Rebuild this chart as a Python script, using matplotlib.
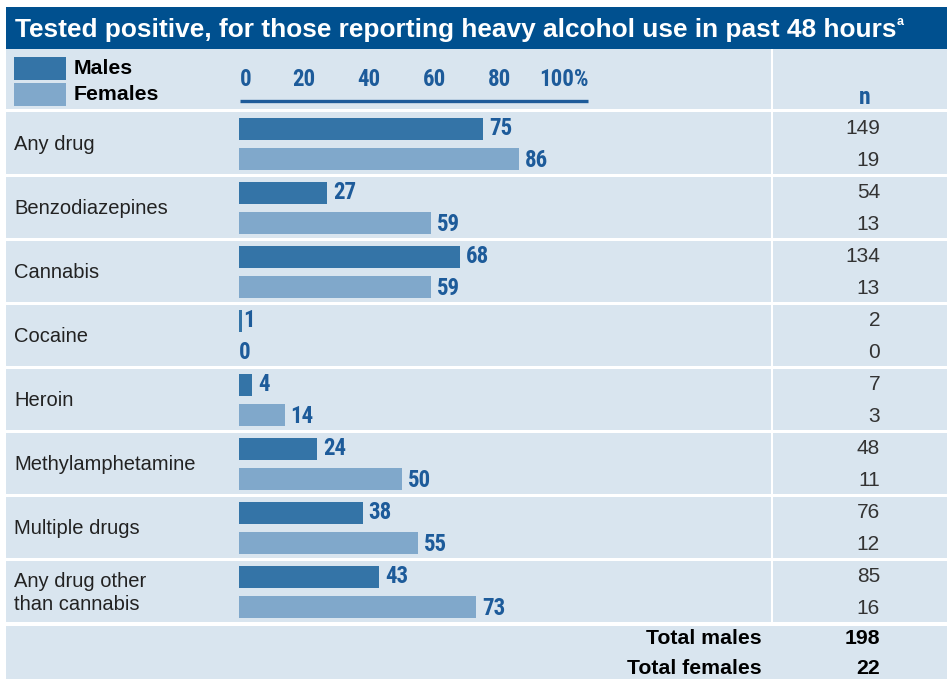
import matplotlib.pyplot as plt
from matplotlib.patches import Rectangle

# Tested positive by drug, split by sex (percent), with group sizes
categories = ["Any drug", "Benzodiazepines", "Cannabis", "Cocaine", "Heroin",
              "Methylamphetamine", "Multiple drugs", "Any drug other\nthan cannabis"]
males_pct = [75, 27, 68, 1, 4, 24, 38, 43]
females_pct = [86, 59, 59, 0, 14, 50, 55, 73]
males_n = [149, 54, 134, 2, 7, 48, 76, 85]
females_n = [19, 13, 13, 0, 3, 11, 12, 16]
ticks = [0, 20, 40, 60, 80, 100]
tick_labels = ["0", "20", "40", "60", "80", "100%"]
total_males = 198
total_females = 22

TITLE_BG = "#00508f"
PANEL = "#d9e5ef"
MALE = "#3474a7"
FEMALE = "#80a8cb"
VALUE = "#1d5b9a"
INK = "#222222"

NARROW = "Roboto Condensed"
PLAIN = "Liberation Sans"

W, H = 947, 679
fig = plt.figure(figsize=(W / 100, H / 100), dpi=100)
fig.patch.set_facecolor("white")

# background layer in pixel units (origin top-left)
bg = fig.add_axes([0, 0, 1, 1])
bg.set_xlim(0, W)
bg.set_ylim(H, 0)
bg.axis("off")

row_top, row_h = 112, 64
n_rows = len(categories)
rows_end = row_top + n_rows * row_h

bg.add_patch(Rectangle((6, 7), W - 6, 42, color=TITLE_BG, lw=0))
bg.add_patch(Rectangle((6, 49), W - 6, H - 49, color=PANEL, lw=0))
# white separators
bg.add_patch(Rectangle((6, row_top - 3), W, 3, color="white", lw=0))
for i in range(1, n_rows):
    bg.add_patch(Rectangle((6, row_top + i * row_h - 2), W, 3, color="white", lw=0))
bg.add_patch(Rectangle((6, rows_end - 2), W, 4, color="white", lw=0))
bg.add_patch(Rectangle((771, 49), 2, rows_end - 49, color="white", lw=0))

bg.text(15, 30, "Tested positive, for those reporting heavy alcohol use in past 48 hours",
        color="white", fontsize=18.9, fontweight="bold", family=PLAIN, va="center")
bg.text(897, 22, "a", color="white", fontsize=9, fontweight="bold", family=PLAIN, va="center")

# legend
bg.add_patch(Rectangle((14, 57), 52, 23, color=MALE, lw=0))
bg.add_patch(Rectangle((14, 83), 52, 23, color=FEMALE, lw=0))
bg.text(74, 69, "Males", fontsize=15.3, fontweight="bold", family=PLAIN, va="center", color="black")
bg.text(74, 95, "Females", fontsize=15.3, fontweight="bold", family=PLAIN, va="center", color="black")
bg.text(865, 97, "n", fontsize=17, fontweight="bold", family=NARROW, va="center", ha="center", color=VALUE)

# bar panel: 0-100% spans 239..564 px
x0, scale = 239, 3.25
ax = fig.add_axes([x0 / W, 1 - rows_end / H, 100 * scale / W, n_rows * row_h / H])
ax.set_xlim(0, 100)
ax.set_ylim(n_rows - 0.5, -0.5)
ax.axis("off")

off, bh = 0.235, 0.35
ys = list(range(n_rows))
ax.barh([y - off for y in ys], males_pct, height=bh, color=MALE, lw=0)
ax.barh([y + off for y in ys], females_pct, height=bh, color=FEMALE, lw=0)

for y, m, f in zip(ys, males_pct, females_pct):
    ax.text(m + 1.9 if m > 1 else m + 0.4, y - off, str(m), color=VALUE, fontsize=16.5,
            fontweight="bold", family=NARROW, va="center", ha="left")
    ax.text(f + 1.9 if f > 0 else f, y + off + 0.02, str(f), color=VALUE, fontsize=16.5,
            fontweight="bold", family=NARROW, va="center", ha="left")

# percentage scale above the bars
ax_top = fig.add_axes([x0 / W, 1 - 103 / H, 100 * scale / W, 40 / H])
ax_top.set_xlim(0, 100)
ax_top.set_ylim(0, 1)
ax_top.axis("off")
ax_top.plot([0.3, 107.5], [0.05, 0.05], color=VALUE, lw=2.4, solid_capstyle="butt", clip_on=False)
for t, lab in zip(ticks, tick_labels):
    ax_top.text(t + (0.3 if t == 0 else 0), 0.6, lab, color=VALUE, fontsize=16.5, fontweight="bold",
                family=NARROW, ha="left" if t == 0 else "center", va="center")

# row labels and counts
for i, (cat, mn, fn) in enumerate(zip(categories, males_n, females_n)):
    cy = row_top + i * row_h + row_h / 2
    bg.text(14, cy + 1, cat, fontsize=14.5, family=PLAIN, color=INK, va="center",
            linespacing=1.3)
    bg.text(880, cy - 15, str(mn), fontsize=15, family=PLAIN, color="#333333", va="center", ha="right")
    bg.text(880, cy + 16, str(fn), fontsize=15, family=PLAIN, color="#333333", va="center", ha="right")

bg.text(762, 639, "Total males", fontsize=15.3, fontweight="bold", family=PLAIN, ha="right", va="center", color="black")
bg.text(762, 669, "Total females", fontsize=15.3, fontweight="bold", family=PLAIN, ha="right", va="center", color="black")
bg.text(880, 639, str(total_males), fontsize=15.3, fontweight="bold", family=PLAIN, ha="right", va="center", color="black")
bg.text(880, 669, str(total_females), fontsize=15.3, fontweight="bold", family=PLAIN, ha="right", va="center", color="black")

fig.savefig("out.png", dpi=100, facecolor=fig.get_facecolor())
